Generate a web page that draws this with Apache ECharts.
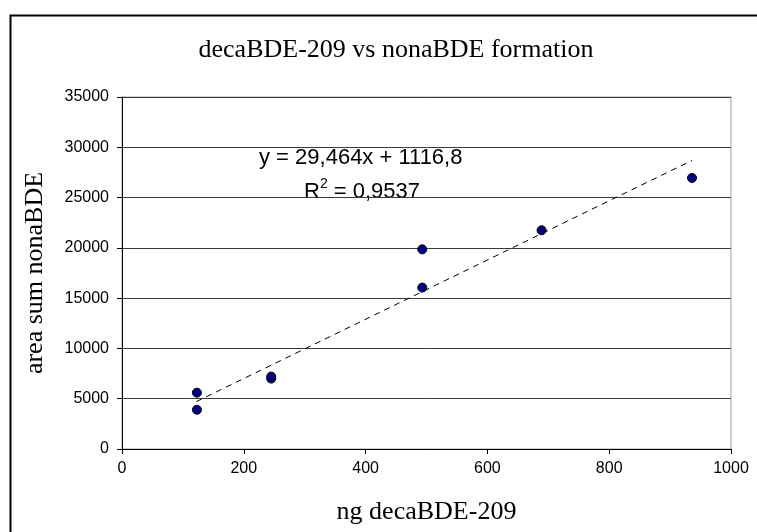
<!DOCTYPE html>
<html>
<head>
<meta charset="utf-8">
<script src="https://cdn.jsdelivr.net/npm/echarts@6/dist/echarts.min.js"></script>
<style>
  html, body { margin: 0; padding: 0; background: #fff; }
  #chart { width: 757px; height: 532px; }
</style>
</head>
<body>
<div id="chart"></div>
<script>
// measured points: ng decaBDE-209 vs area sum nonaBDE
const decaNg = [123, 123, 245, 245, 493, 493, 689, 936];
const nonaArea = [5600, 3900, 7000, 7200, 19850, 16050, 21750, 26950];
// trend line ends as drawn in the picture
const trendX = [122, 936];
const trendY = [4710, 28690];
const eqText = 'y = 29,464x + 1116,8';

const chart = echarts.init(document.getElementById('chart'));

const points = decaNg.map((x, i) => [x, nonaArea[i]]);
const trend = trendX.map((x, i) => [x, trendY[i]]);

chart.setOption({
  animation: false,
  title: {
    text: 'decaBDE-209 vs nonaBDE formation',
    left: 391,
    top: 32,
    textAlign: 'center',
    textStyle: { fontFamily: 'Liberation Serif', fontSize: 26, fontWeight: 'normal', color: '#000' }
  },
  grid: {
    left: 122, right: 26, top: 97, bottom: 83,
    show: true, borderColor: '#a0a0a0', borderWidth: 1
  },
  xAxis: {
    type: 'value', min: 0, max: 1000, interval: 200,
    name: 'ng decaBDE-209', nameLocation: 'middle', nameGap: 50,
    nameTextStyle: { fontFamily: 'Liberation Serif', fontSize: 26, color: '#000' },
    axisLine: { show: true, lineStyle: { color: '#000', width: 1 } },
    axisTick: { show: true, length: 5, lineStyle: { color: '#000' } },
    axisLabel: { fontFamily: 'Liberation Sans', fontSize: 16, color: '#000', margin: 12, formatter: v => String(v) },
    splitLine: { show: false }
  },
  yAxis: {
    type: 'value', min: 0, max: 35000, interval: 5000,
    name: 'area sum nonaBDE', nameLocation: 'middle', nameGap: 74,
    nameTextStyle: { fontFamily: 'Liberation Serif', fontSize: 26, color: '#000' },
    axisLine: { show: true, lineStyle: { color: '#000', width: 1 } },
    axisTick: { show: true, length: 5, lineStyle: { color: '#000' } },
    axisLabel: { fontFamily: 'Liberation Sans', fontSize: 16, color: '#000', margin: 13, formatter: v => String(v) },
    splitLine: { show: true, lineStyle: { color: '#3a3a3a', width: 1 } }
  },
  graphic: [
    {
      type: 'rect', left: 8, top: 13, silent: true,
      shape: { width: 800, height: 600 },
      style: { fill: 'none', stroke: '#000', lineWidth: 2 }
    },
    {
      type: 'text', left: 259, top: 147,
      style: { text: eqText, font: '22px "Liberation Sans"', fill: '#000' }
    },
    {
      type: 'text', left: 304, top: 177,
      style: {
        text: '{r|R}{s|2}{r| = 0,9537}',
        rich: {
          r: { fontFamily: 'Liberation Sans', fontSize: 22, color: '#000', verticalAlign: 'bottom' },
          s: { fontFamily: 'Liberation Sans', fontSize: 14, color: '#000', padding: [0, 0, 12, 0] }
        }
      }
    }
  ],
  series: [
    {
      type: 'line', data: trend, symbol: 'none', z: 2,
      lineStyle: { color: '#000', width: 1, type: [6, 5] }
    },
    {
      type: 'scatter', data: points, symbol: 'circle', symbolSize: 9, z: 3,
      itemStyle: { color: '#000080', borderColor: '#000', borderWidth: 1, opacity: 1 }
    }
  ]
});
</script>
</body>
</html>
